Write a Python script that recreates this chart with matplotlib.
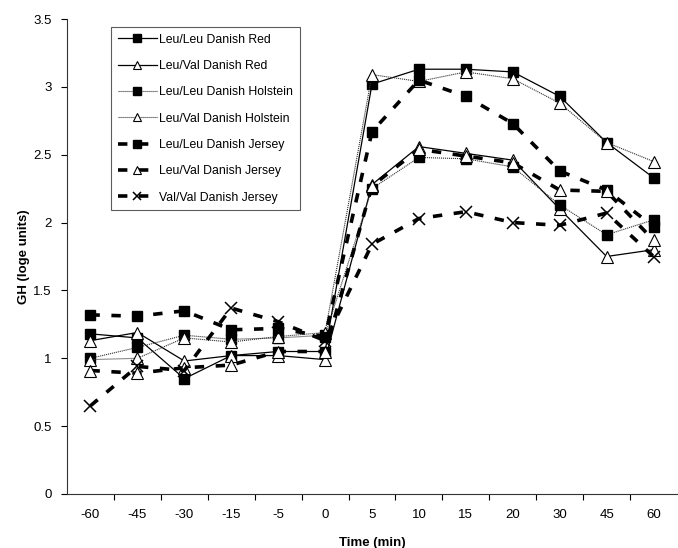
import matplotlib
matplotlib.use("Agg")
import matplotlib.pyplot as plt
import numpy as np

plt.rcParams['font.family'] = ['Liberation Sans', 'DejaVu Sans']

# time points (categorical axis, like the original spreadsheet chart)
times = ['-60', '-45', '-30', '-15', '-5', '0', '5', '10', '15', '20', '30', '45', '60']

ll_red = [1.18, 1.15, 0.85, 1.02, 1.05, 1.05, 3.02, 3.13, 3.13, 3.11, 2.93, 2.59, 2.33]
lv_red = [1.13, 1.19, 0.98, 1.02, 1.02, 0.99, 2.28, 2.56, 2.51, 2.46, 2.10, 1.75, 1.80]
ll_hol = [1.00, 1.08, 1.17, 1.14, 1.15, 1.17, 2.25, 2.48, 2.47, 2.41, 2.13, 1.91, 2.02]
lv_hol = [0.99, 1.00, 1.15, 1.12, 1.16, 1.19, 3.09, 3.04, 3.11, 3.06, 2.88, 2.59, 2.45]
ll_jer = [1.32, 1.31, 1.35, 1.21, 1.22, 1.16, 2.67, 3.05, 2.93, 2.73, 2.38, 2.24, 1.97]
lv_jer = [0.91, 0.89, 0.93, 0.95, 1.05, 1.05, 2.27, 2.54, 2.49, 2.44, 2.24, 2.23, 1.87]
vv_jer = [0.65, 0.94, 0.91, 1.37, 1.27, 1.13, 1.84, 2.03, 2.08, 2.00, 1.98, 2.07, 1.75]

fig = plt.figure(figsize=(6.78, 5.48), dpi=100)
ax = fig.add_axes([67 / 678, 54 / 548, 610 / 678, 475 / 548])

x = np.arange(len(times))

sq = dict(marker='s', markersize=7.3, markerfacecolor='black', markeredgecolor='black')
tri = dict(marker='^', markersize=8, markerfacecolor='white', markeredgecolor='black',
           markeredgewidth=0.8)
solid = dict(color='black', linestyle='-', linewidth=0.9)
dotted = dict(color='#333333', linestyle=(0, (1, 0.8)), linewidth=0.8)
dashed = dict(color='black', linestyle=(0, (2.6, 3.2)), linewidth=2.6)

ax.plot(x, ll_red, label='Leu/Leu Danish Red', **solid, **sq)
ax.plot(x, lv_red, label='Leu/Val Danish Red', **solid, **tri)
ax.plot(x, ll_hol, label='Leu/Leu Danish Holstein', **dotted, **sq)
ax.plot(x, lv_hol, label='Leu/Val Danish Holstein', **dotted, **tri)
ax.plot(x, ll_jer, label='Leu/Leu Danish Jersey', **dashed, **sq)
ax.plot(x, lv_jer, label='Leu/Val Danish Jersey', **dashed, **tri)
ax.plot(x, vv_jer, label='Val/Val Danish Jersey', marker='x', markersize=8,
        markeredgewidth=1.1, markeredgecolor='black', **dashed)

ax.set_xlim(-0.5, len(times) - 0.5)
ax.set_ylim(0, 3.5)
ax.set_yticks(np.arange(0, 3.51, 0.5))
ax.set_yticklabels(['0', '0.5', '1', '1.5', '2', '2.5', '3', '3.5'])
ax.set_xticks(x)
ax.set_xticklabels(times)
ax.set_xticks(np.arange(0.5, len(times) - 0.5, 1), minor=True)
ax.tick_params(axis='x', which='major', length=0, pad=11, labelsize=9.5)
ax.tick_params(axis='x', which='minor', length=4, width=0.8, direction='out')
ax.tick_params(axis='y', length=4, width=0.8, direction='out', labelsize=9.5, pad=7)

for side in ['top', 'right']:
    ax.spines[side].set_visible(False)
for side in ['left', 'bottom']:
    ax.spines[side].set_linewidth(0.8)
    ax.spines[side].set_color('#333333')

ax.set_xlabel('Time (min)', fontsize=9.5, fontweight='bold', labelpad=11)
ax.set_ylabel('GH (loge units)', fontsize=9.5, fontweight='bold', labelpad=2)

leg = ax.legend(loc='upper left', bbox_to_anchor=(111 / 678, 1 - 27 / 548),
                bbox_transform=fig.transFigure, borderaxespad=0, fontsize=8.8,
                frameon=True, fancybox=False, labelspacing=1.17, handlelength=3.2,
                handletextpad=0.2, borderpad=0.55, markerscale=0.75)
leg.get_frame().set_edgecolor('#333333')
leg.get_frame().set_linewidth(0.8)

fig.savefig('out.png', dpi=100)
